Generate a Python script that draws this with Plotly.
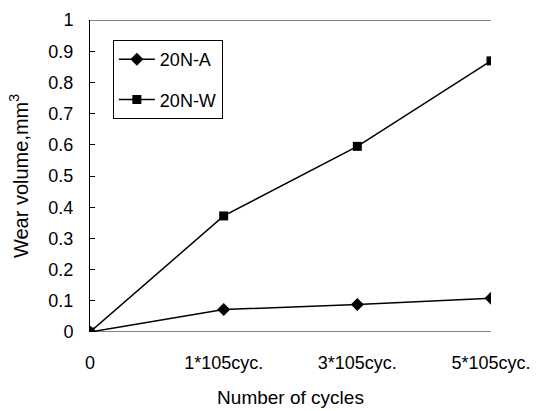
import plotly.graph_objects as go

categories = ["0", "1*105cyc.", "3*105cyc.", "5*105cyc."]
wear_20NA = [0, 0.072, 0.088, 0.108]
wear_20NW = [0, 0.372, 0.595, 0.869]
y_ticks = [0, 0.1, 0.2, 0.3, 0.4, 0.5, 0.6, 0.7, 0.8, 0.9, 1]
y_ticklabels = ["0", "0.1", "0.2", "0.3", "0.4", "0.5", "0.6", "0.7", "0.8", "0.9", "1"]

fig = go.Figure()
fig.add_trace(go.Scatter(x=categories, y=wear_20NA, name="20N-A", mode="lines+markers",
                         legendgroup="a",
                         line=dict(color="black", width=1.5),
                         marker=dict(symbol="diamond", size=10, color="black")))
fig.add_trace(go.Scatter(x=categories, y=wear_20NW, name="20N-W", mode="lines+markers",
                         legendgroup="b",
                         line=dict(color="black", width=1.5),
                         marker=dict(symbol="square", size=9, color="black")))

font = "Liberation Sans, Arial, sans-serif"
fig.update_layout(
    width=539, height=411,
    margin=dict(l=90, r=48, t=20, b=79),
    paper_bgcolor="white", plot_bgcolor="white",
    font=dict(family=font, size=18, color="black"),
    showlegend=True,
    legend=dict(x=0.057, y=0.936, xanchor="left", yanchor="top",
                bordercolor="black", borderwidth=1, bgcolor="white",
                font=dict(size=18), itemwidth=36, tracegroupgap=14,
                traceorder="grouped"),
    xaxis=dict(type="category", range=[0, 3], showgrid=False, zeroline=False,
               showline=False, ticks="", tickfont=dict(size=18), ticklabelstandoff=18,
               automargin=False,
               title=dict(text="Number of cycles", font=dict(size=19), standoff=18)),
    yaxis=dict(range=[0, 1], tickvals=y_ticks, ticktext=y_ticklabels,
               showgrid=False, zeroline=False, showline=True, linecolor="black",
               linewidth=1, ticks="inside", ticklen=5, tickcolor="black",
               tickfont=dict(size=18), ticklabelstandoff=12, automargin=False,
               title=dict(text="Wear volume,mm<sup>3</sup>", font=dict(size=20), standoff=14)),
)
fig.add_hline(y=1, line=dict(color="black", width=1))
fig.add_hline(y=0, line=dict(color="black", width=1))

fig.write_html("out.html")
